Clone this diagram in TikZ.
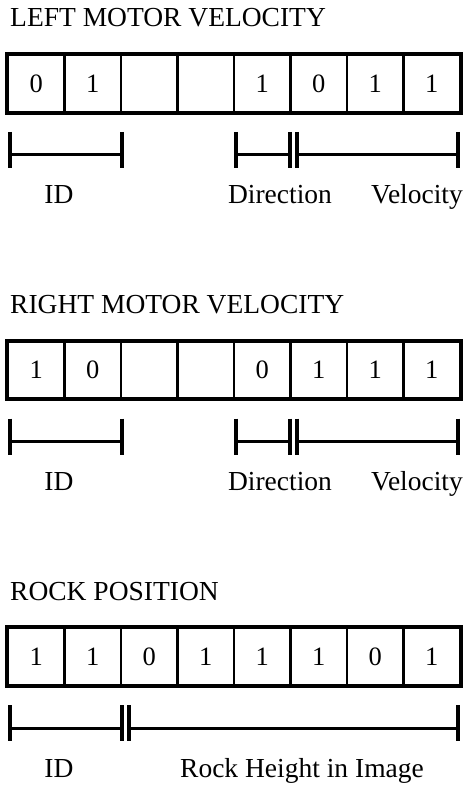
\documentclass[tikz,border=0pt]{standalone}
\usepackage{fontspec}
\setmainfont{Liberation Serif}
\newcommand\dimbar[2]{%
  \draw[brk] (#1) -- (#2);
  \draw[brktick] (#1) ++(0,-23) -- ++(0,36);
  \draw[brktick] (#2) ++(0,-23) -- ++(0,36);}
\begin{document}
\begin{tikzpicture}[x=1pt,y=-1pt,
  cell/.style={draw, line width=2.2pt, minimum width=56.5pt, minimum height=57pt, inner sep=0pt, font=\fontsize{26.5}{30}\selectfont},
  frame/.style={draw, line width=3.2pt},
  title/.style={anchor=base west, inner sep=0pt, font=\fontsize{27.5}{30}\selectfont},
  lbl/.style={anchor=base, inner sep=0pt, font=\fontsize{27.5}{30}\selectfont},
  brk/.style={line width=3pt},
  brktick/.style={line width=3.4pt}]
\useasboundingbox (0,0) rectangle (466,786);

% ---------- block 1 ----------
\node[title] (t1) at (10,27) {LEFT MOTOR VELOCITY};
\foreach \b [count=\i] in {0,1,{},{},1,0,1,1}
  \node[cell] (a\i) at ({8+56.5*(\i-0.5)},83.5) {\b};
\draw[frame] (a1.north west) rectangle (a8.south east);
\coordinate (a-id1) at (10,155);
\coordinate (a-id2) at (122,155);
\coordinate (a-d1) at (236,155);
\coordinate (a-d2) at (290,155);
\coordinate (a-v1) at (297,155);
\coordinate (a-v2) at (458,155);
\dimbar{a-id1}{a-id2}
\dimbar{a-d1}{a-d2}
\dimbar{a-v1}{a-v2}
\node[lbl] (a-idl) at (59,204) {ID};
\node[lbl] (a-dl) at (280,204) {Direction};
\node[lbl] (a-vl) at (417,204) {Velocity};

% ---------- block 2 ----------
\begin{scope}[yshift=-286.5pt]
\node[title] (t2) at (10,27) {RIGHT MOTOR VELOCITY};
\foreach \b [count=\i] in {1,0,{},{},0,1,1,1}
  \node[cell] (b\i) at ({8+56.5*(\i-0.5)},83.5) {\b};
\draw[frame] (b1.north west) rectangle (b8.south east);
\coordinate (b-id1) at (10,155);
\coordinate (b-id2) at (122,155);
\coordinate (b-d1) at (236,155);
\coordinate (b-d2) at (290,155);
\coordinate (b-v1) at (297,155);
\coordinate (b-v2) at (458,155);
\dimbar{b-id1}{b-id2}
\dimbar{b-d1}{b-d2}
\dimbar{b-v1}{b-v2}
\node[lbl] (b-idl) at (59,204) {ID};
\node[lbl] (b-dl) at (280,204) {Direction};
\node[lbl] (b-vl) at (417,204) {Velocity};
\end{scope}

% ---------- block 3 ----------
\begin{scope}[yshift=-573pt]
\node[title] (t3) at (10,27) {ROCK POSITION};
\foreach \b [count=\i] in {1,1,0,1,1,1,0,1}
  \node[cell] (c\i) at ({8+56.5*(\i-0.5)},83.5) {\b};
\draw[frame] (c1.north west) rectangle (c8.south east);
\coordinate (c-id1) at (10,155);
\coordinate (c-id2) at (122,155);
\coordinate (c-r1) at (129,155);
\coordinate (c-r2) at (458,155);
\dimbar{c-id1}{c-id2}
\dimbar{c-r1}{c-r2}
\node[lbl] (c-idl) at (59,204) {ID};
\node[lbl] (c-rl) at (302,204) {Rock Height in Image};
\end{scope}
\end{tikzpicture}
\end{document}
